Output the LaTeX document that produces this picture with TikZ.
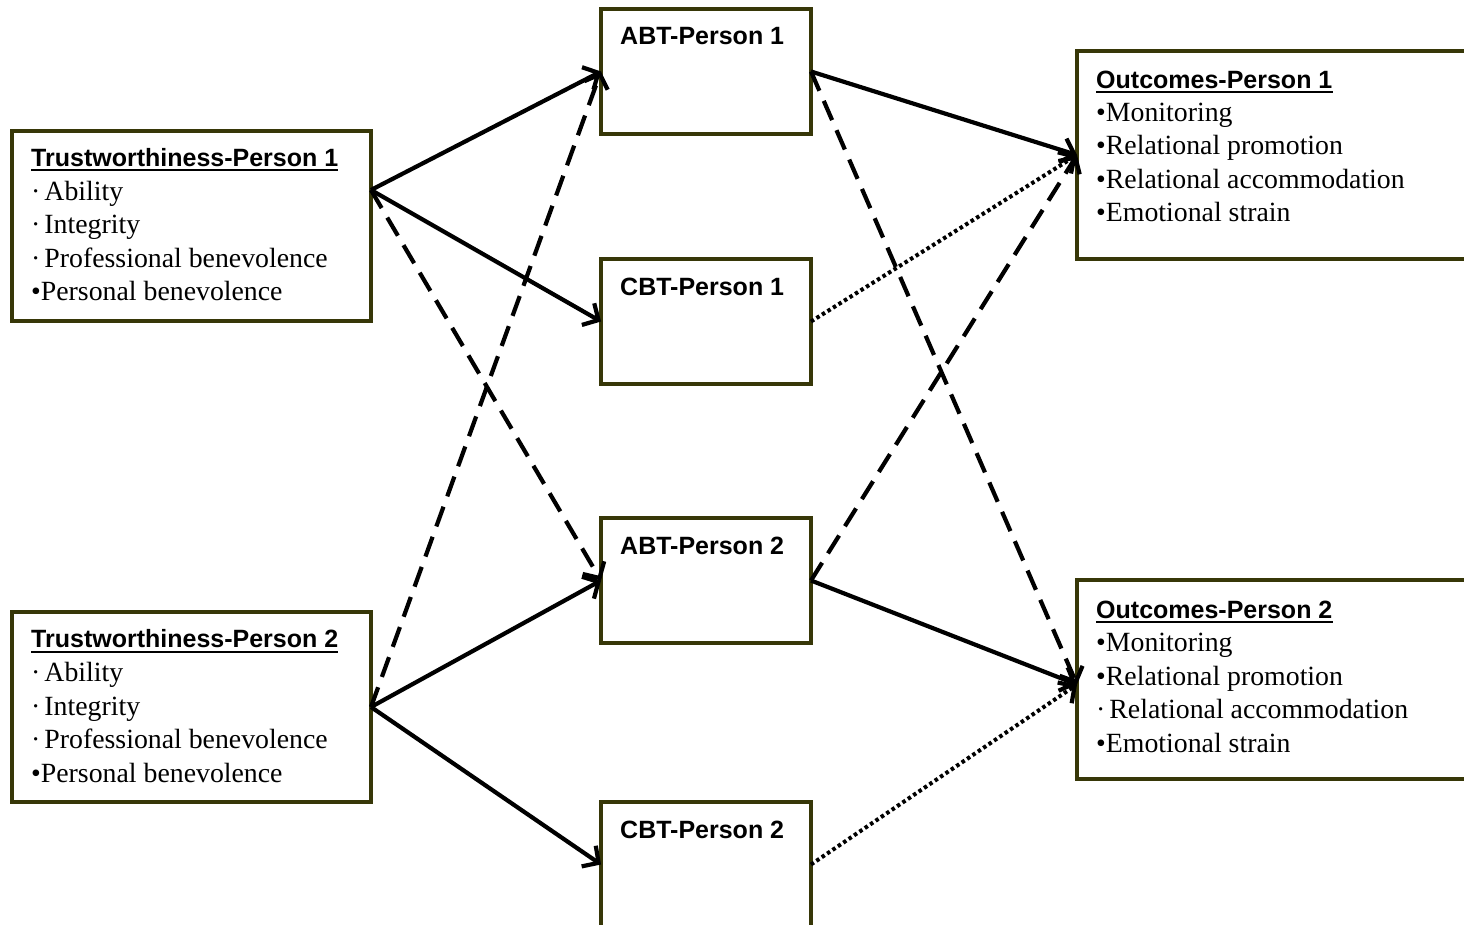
\documentclass[tikz,border=0pt]{standalone}
\usepackage{fontspec}
\setmainfont{Liberation Serif}
\newfontfamily\hdfont{Liberation Sans}
\usetikzlibrary{arrows.meta}
\definecolor{boxc}{RGB}{55,55,8}
\newcommand\md{·\kern4pt}
\tikzset{
  box/.style={draw=boxc, line width=3.2pt, fill=white, outer sep=0pt, inner sep=0pt, rectangle},
  hd/.style={anchor=base west, inner sep=0pt, font=\hdfont\bfseries\fontsize{25}{30}\selectfont},
  item/.style={anchor=base west, inner sep=0pt, font=\fontsize{27.8}{33}\selectfont},
  ul/.style={line width=2pt},
  tip/.style={-{Straight Barb[length=12pt,width=25pt,line width=4.2pt]}},
  arr/.style={line width=4.2pt, tip},
  solidarr/.style={arr},
  dasharr/.style={arr, dash pattern=on 21pt off 11pt},
  dotarr/.style={line width=4pt, dash pattern=on 3.5pt off 3pt, tip}
}
\begin{document}
\begin{tikzpicture}[x=1pt,y=-1pt]
\useasboundingbox (0,0) rectangle (1464,925);
\clip (0,0) rectangle (1464,925);
\fill[white] (0,0) rectangle (1464,925);

% boxes
\node[box, minimum width=359pt, minimum height=190pt, anchor=north west] (t1) at (12,131) {};
\node[box, minimum width=359pt, minimum height=190pt, anchor=north west] (t2) at (12,612) {};
\node[box, minimum width=210pt, minimum height=125pt, anchor=north west] (abt1) at (601,9) {};
\node[box, minimum width=210pt, minimum height=125pt, anchor=north west] (cbt1) at (601,259) {};
\node[box, minimum width=210pt, minimum height=125pt, anchor=north west] (abt2) at (601,518) {};
\node[box, minimum width=210pt, minimum height=125pt, anchor=north west] (cbt2) at (601,802) {};
\node[box, minimum width=420pt, minimum height=208pt, anchor=north west] (o1) at (1077,51) {};
\node[box, minimum width=420pt, minimum height=199pt, anchor=north west] (o2) at (1077,580) {};

% texts
\node[hd] (t1h) at (31,166.5) {Trustworthiness-Person 1};
\node[item] (t1a) at (31,200.5) {\md Ability};
\node[item] (t1b) at (31,234) {\md Integrity};
\node[item] (t1c) at (31,267.5) {\md Professional benevolence};
\node[item] (t1d) at (31,301) {•Personal benevolence};

\node[hd] (t2h) at (31,647.5) {Trustworthiness-Person 2};
\node[item] (t2a) at (31,681.5) {\md Ability};
\node[item] (t2b) at (31,715) {\md Integrity};
\node[item] (t2c) at (31,748.5) {\md Professional benevolence};
\node[item] (t2d) at (31,782) {•Personal benevolence};

\node[hd] (abt1h) at (620,45) {ABT-Person 1};
\node[hd] (cbt1h) at (620,295) {CBT-Person 1};
\node[hd] (abt2h) at (620,554) {ABT-Person 2};
\node[hd] (cbt2h) at (620,838) {CBT-Person 2};

\node[hd] (o1h) at (1096,88.5) {Outcomes-Person 1};
\node[item] (o1a) at (1096,121.5) {•Monitoring};
\node[item] (o1b) at (1096,155) {•Relational promotion};
\node[item] (o1c) at (1096,188.5) {•Relational accommodation};
\node[item] (o1d) at (1096,222) {•Emotional strain};

\node[hd] (o2h) at (1096,618) {Outcomes-Person 2};
\node[item] (o2a) at (1096,651.5) {•Monitoring};
\node[item] (o2b) at (1096,685) {•Relational promotion};
\node[item] (o2c) at (1096,718.5) {\md Relational accommodation};
\node[item] (o2d) at (1096,752) {•Emotional strain};

% underlines of the headings
\foreach \h in {t1h,t2h,o1h,o2h}
  \draw[ul] ([yshift=-4pt]\h.base west) -- ([yshift=-4pt]\h.base east);

% connectors
\coordinate (t1p) at ([yshift=36pt]t1.east);
\coordinate (o2p) at ([yshift=-5pt]o2.west);
\draw[solidarr] (t1p) -- (abt1.west);
\draw[solidarr] (t1p) -- (cbt1.west);
\draw[dasharr] (t1p) -- (abt2.west);
\draw[dasharr] (t2.east) -- (abt1.west);
\draw[solidarr] (t2.east) -- (abt2.west);
\draw[solidarr] (t2.east) -- (cbt2.west);

\draw[solidarr] (abt1.east) -- (o1.west);
\draw[dasharr] (abt1.east) -- (o2p);
\draw[dotarr] (cbt1.east) -- (o1.west);
\draw[dasharr] (abt2.east) -- (o1.west);
\draw[solidarr] (abt2.east) -- (o2p);
\draw[dotarr] (cbt2.east) -- (o2p);
\end{tikzpicture}
\end{document}
